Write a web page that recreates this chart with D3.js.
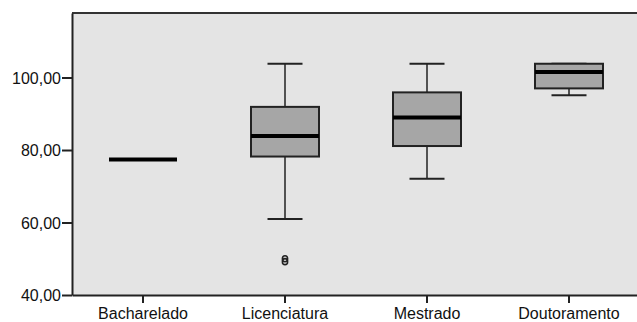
<!DOCTYPE html>
<html>
<head>
<meta charset="utf-8">
<script src="https://cdn.jsdelivr.net/npm/d3@7"></script>
<style>
  html, body { margin: 0; padding: 0; background: #fff; }
  svg { display: block; }
  text { font-family: "Liberation Sans", Arial, sans-serif; fill: #111; }
</style>
</head>
<body>
<svg id="chart" width="637" height="322"></svg>
<script>
const categories = ["Bacharelado", "Licenciatura", "Mestrado", "Doutoramento"];
const whiskerLow  = [77.4, 61.0, 72.1, 95.1];
const q1          = [77.4, 78.2, 81.1, 97.0];
const medians     = [77.4, 83.9, 89.0, 101.5];
const q3          = [77.4, 91.9, 95.9, 103.8];
const whiskerHigh = [77.4, 103.8, 103.8, 103.8];
const outlierCategory = ["Licenciatura", "Licenciatura"];
const outlierValues   = [49.2, 50.0];
const yTicks = [40, 60, 80, 100];
const yDomain = [40, 117.8];

(function () {
const svg = d3.select("#chart");
const mLeft = 72, mRight = 640, mTop = 13, mBottom = 295;

const x = d3.scaleBand().domain(categories).range([mLeft, mRight]).paddingInner(0).paddingOuter(0);
const y = d3.scaleLinear().domain(yDomain).range([mBottom, mTop]);

svg.append("rect").attr("x", mLeft).attr("y", mTop)
  .attr("width", mRight - mLeft).attr("height", mBottom - mTop)
  .attr("fill", "#e4e4e4");

svg.append("line").attr("x1", mLeft).attr("x2", mRight).attr("y1", mTop).attr("y2", mTop)
  .attr("stroke", "#333").attr("stroke-width", 2);

const fmt = d => d3.format(".2f")(d).replace(".", ",");

const yAxis = d3.axisLeft(y).tickValues(yTicks).tickFormat(fmt).tickSize(10).tickSizeOuter(0);
const gy = svg.append("g").attr("transform", `translate(${mLeft},0)`).call(yAxis);
gy.select(".domain").attr("stroke", "#222").attr("stroke-width", 2);
gy.selectAll(".tick line").attr("stroke", "#222").attr("stroke-width", 2);
gy.selectAll(".tick text").attr("font-size", 16).attr("x", -11).attr("dy", "0.36em")
  .style("font-family", "'Liberation Sans', Arial, sans-serif").attr("fill", "#111");

const xAxis = d3.axisBottom(x).tickSize(8).tickSizeOuter(0);
const gx = svg.append("g").attr("transform", `translate(0,${mBottom})`).call(xAxis);
gx.select(".domain").attr("stroke", "#222").attr("stroke-width", 2);
gx.selectAll(".tick line").attr("stroke", "#222").attr("stroke-width", 2);
gx.selectAll(".tick text").attr("font-size", 16).attr("y", 24).attr("dy", 0)
  .style("font-family", "'Liberation Sans', Arial, sans-serif").attr("fill", "#111");

const bw = 68, capW = 35;
const data = categories.map((c, i) => ({
  c, lo: whiskerLow[i], q1: q1[i], med: medians[i], q3: q3[i], hi: whiskerHigh[i]
}));

const g = svg.append("g");
data.forEach(d => {
  const cx = x(d.c) + x.bandwidth() / 2;
  if (d.q3 - d.q1 > 0.01) {
    g.append("line").attr("x1", cx).attr("x2", cx).attr("y1", y(d.hi)).attr("y2", y(d.q3))
      .attr("stroke", "#222").attr("stroke-width", 1.5);
    g.append("line").attr("x1", cx).attr("x2", cx).attr("y1", y(d.q1)).attr("y2", y(d.lo))
      .attr("stroke", "#222").attr("stroke-width", 1.5);
    g.append("line").attr("x1", cx - capW / 2).attr("x2", cx + capW / 2).attr("y1", y(d.hi)).attr("y2", y(d.hi))
      .attr("stroke", "#222").attr("stroke-width", 2);
    g.append("line").attr("x1", cx - capW / 2).attr("x2", cx + capW / 2).attr("y1", y(d.lo)).attr("y2", y(d.lo))
      .attr("stroke", "#222").attr("stroke-width", 2);
    g.append("rect").attr("x", cx - bw / 2).attr("y", y(d.q3))
      .attr("width", bw).attr("height", y(d.q1) - y(d.q3))
      .attr("fill", "#a6a6a6").attr("stroke", "#222").attr("stroke-width", 2);
  }
  g.append("line").attr("x1", cx - bw / 2).attr("x2", cx + bw / 2).attr("y1", y(d.med)).attr("y2", y(d.med))
    .attr("stroke", "#000").attr("stroke-width", 4);
});

outlierValues.forEach((v, i) => {
  const cx = x(outlierCategory[i]) + x.bandwidth() / 2;
  g.append("ellipse").attr("cx", cx).attr("cy", y(v)).attr("rx", 2.6).attr("ry", 3)
    .attr("fill", "none").attr("stroke", "#222").attr("stroke-width", 1.6);
});
})();
</script>
</body>
</html>
